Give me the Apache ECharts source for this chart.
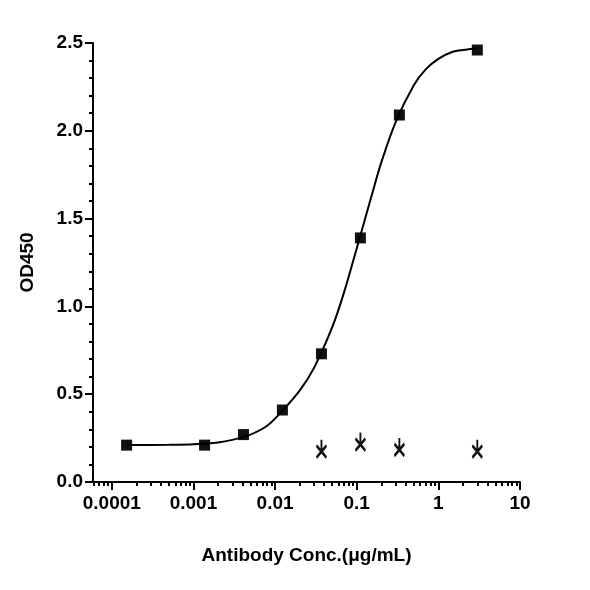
<!DOCTYPE html>
<html><head><meta charset="utf-8">
<script src="https://cdn.jsdelivr.net/npm/echarts@6/dist/echarts.min.js"></script>
<style>body{margin:0}#c{width:590px;height:590px;background:#fff}</style>
</head><body><div id="c"></div>
<script>
// concentrations (μg/mL), 3-fold dilution
var concSq = [0.000152, 0.00137, 0.0041, 0.0123, 0.037, 0.111, 0.333, 3];
var odSq = [0.21, 0.21, 0.27, 0.41, 0.73, 1.39, 2.09, 2.46];
var concX = [0.037, 0.111, 0.333, 3];
var odX = [0.19, 0.23, 0.20, 0.19];
// fitted curve
var curveConc = [0.000152, 0.0005, 0.001, 0.002, 0.003, 0.005, 0.008, 0.012, 0.02, 0.03, 0.05, 0.07, 0.1, 0.15, 0.2, 0.3, 0.5, 0.7, 1, 1.5, 2, 3];
var curveOd = [0.21, 0.212, 0.215, 0.225, 0.24, 0.27, 0.32, 0.40, 0.52, 0.65, 0.88, 1.08, 1.33, 1.62, 1.82, 2.05, 2.26, 2.35, 2.41, 2.45, 2.46, 2.47];
var majorTicks = [-4, -3, -2, -1, 0, 1];
var majorLabels = ['0.0001', '0.001', '0.01', '0.1', '1', '10'];

function lg(v){ return Math.log10(v); }
function pairs(xs, ys){ return xs.map(function(x,i){ return [lg(x), ys[i]]; }); }
var minor = [];
for (var d = -5; d < 1; d++) for (var k = 2; k < 10; k++) {
	var v = d + lg(k);
	if (v > -4.23 && v < 1) minor.push(v);
}
var xMin = -4.23, xMax = 1;
var font = 'Liberation Sans, Arial, sans-serif';
var crossPath = 'path://M0,6 L10,18 M10,6 L0,18 M5,0 L5,12';

var chart = echarts.init(document.getElementById('c'));
chart.setOption({
	animation: false,
	grid: {left: 93, right: 70, top: 43, bottom: 108},
	xAxis: [{
		type: 'value', min: xMin, max: xMax,
		axisLine: {onZero: false, lineStyle: {color: '#000', width: 2}},
		splitLine: {show: false},
		axisTick: {customValues: majorTicks, length: 8, lineStyle: {color: '#000', width: 2}},
		axisLabel: {customValues: majorTicks, formatter: function(v){ return majorLabels[majorTicks.indexOf(Math.round(v))]; },
			color: '#000', fontSize: 19, fontWeight: 'bold', fontFamily: font, margin: 12},
		name: 'Antibody Conc.(μg/mL)', nameLocation: 'middle', nameGap: 64,
		nameTextStyle: {color: '#000', fontSize: 19, fontWeight: 'bold', fontFamily: font}
	}, {
		type: 'value', min: xMin, max: xMax, position: 'bottom',
		axisLine: {show: false}, splitLine: {show: false}, axisLabel: {show: false},
		axisTick: {customValues: minor, length: 4, lineStyle: {color: '#000', width: 2}}
	}],
	yAxis: {
		type: 'value', min: 0, max: 2.5, interval: 0.5,
		axisLine: {show: true, onZero: false, lineStyle: {color: '#000', width: 2}},
		splitLine: {show: false},
		axisTick: {show: true, length: 8, lineStyle: {width: 2}},
		minorTick: {show: true, splitNumber: 5, length: 4, lineStyle: {color: '#000', width: 2}},
		axisLabel: {color: '#000', fontSize: 19, fontWeight: 'bold', fontFamily: font, margin: 10,
			formatter: function(v){ return v.toFixed(1); }},
		name: 'OD450', nameLocation: 'middle', nameGap: 56,
		nameTextStyle: {color: '#000', fontSize: 19, fontWeight: 'bold', fontFamily: font}
	},
	series: [{
		type: 'line', data: pairs(curveConc, curveOd), smooth: 0.3, showSymbol: false,
		lineStyle: {color: '#000', width: 2}
	}, {
		type: 'scatter', data: pairs(concSq, odSq), symbol: 'rect', symbolSize: 11,
		itemStyle: {color: '#111', opacity: 1}
	}, {
		type: 'scatter', data: pairs(concX, odX), symbol: crossPath, symbolSize: [10, 18],
		itemStyle: {color: 'none', borderColor: '#111', borderWidth: 2.5, opacity: 1}
	}]
});
</script></body></html>
